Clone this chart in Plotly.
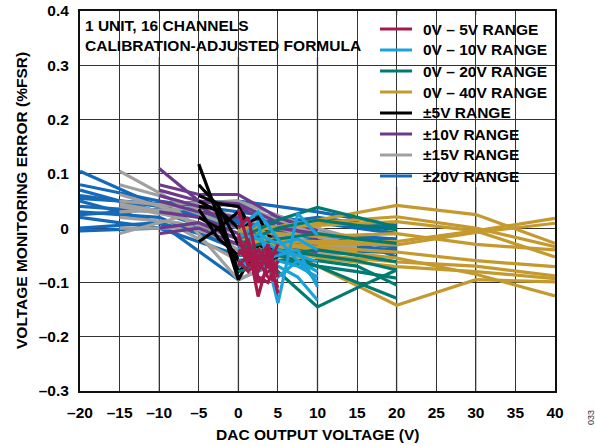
import plotly.graph_objects as go

# DAC output voltage at 0, 25, 50, 75 and 100 % of each range's span (V)
x_0_5 = [0, 1.25, 2.5, 3.75, 5]
x_0_10 = [0, 2.5, 5, 7.5, 10]
x_0_20 = [0, 5, 10, 15, 20]
x_0_40 = [0, 10, 20, 30, 40]
x_pm5 = [-5, -2.5, 0, 2.5, 5]
x_pm10 = [-10, -5, 0, 5, 10]
x_pm15 = [-15, -7.5, 0, 7.5, 15]
x_pm20 = [-20, -10, 0, 10, 20]

# Voltage monitoring error (%FSR), one row per channel
err_0_5 = [
    [0.035, -0.030, -0.126, -0.060, -0.080],
    [-0.020, -0.050, -0.080, -0.040, -0.120],
    [-0.040, -0.060, -0.050, -0.070, -0.030],
    [-0.050, -0.020, -0.090, -0.100, -0.060],
    [0.000, 0.020, -0.070, -0.050, -0.045],
    [-0.060, -0.080, -0.060, -0.090, -0.100],
    [-0.030, -0.040, -0.100, -0.080, -0.070],
    [-0.070, -0.050, -0.040, -0.060, -0.110],
    [-0.010, -0.070, -0.060, -0.030, -0.090],
]
err_0_10 = [
    [-0.020, 0.010, -0.138, 0.027, -0.013],
    [-0.030, -0.060, -0.050, -0.040, -0.108],
    [0.000, 0.030, -0.020, -0.060, -0.080],
    [-0.050, -0.040, -0.070, -0.090, -0.133],
    [-0.010, -0.020, -0.040, -0.050, -0.062],
    [-0.060, -0.080, -0.060, -0.070, -0.090],
    [-0.040, -0.010, -0.030, -0.020, -0.040],
    [-0.070, -0.050, -0.090, -0.060, -0.100],
]
err_0_20 = [
    [-0.020, 0.015, 0.038, 0.020, 0.002],
    [-0.030, 0.000, 0.015, 0.005, -0.003],
    [-0.040, -0.020, -0.010, -0.020, -0.028],
    [-0.060, -0.050, -0.040, -0.050, -0.062],
    [-0.050, -0.040, -0.050, -0.060, -0.077],
    [-0.070, -0.060, -0.070, -0.080, -0.092],
    [-0.030, -0.050, -0.070, -0.100, -0.129],
    [-0.020, -0.080, -0.145, -0.110, -0.077],
    [-0.080, -0.060, -0.060, -0.070, -0.105],
]
err_0_40 = [
    [-0.010, 0.015, 0.042, 0.025, -0.028],
    [-0.005, 0.010, 0.021, 0.000, -0.034],
    [0.000, 0.005, 0.012, -0.005, -0.053],
    [-0.020, -0.025, -0.025, -0.005, 0.018],
    [-0.015, -0.028, -0.031, -0.008, 0.009],
    [-0.020, -0.035, -0.044, -0.060, -0.071],
    [-0.020, -0.050, -0.062, -0.070, -0.088],
    [-0.010, -0.055, -0.071, -0.080, -0.093],
    [0.000, -0.070, -0.142, -0.095, -0.099],
    [-0.020, -0.040, -0.055, -0.085, -0.125],
    [-0.005, -0.015, -0.010, -0.030, -0.040],
]
err_pm5 = [
    [0.118, 0.020, -0.095, -0.030, -0.045],
    [0.080, 0.040, -0.030, -0.010, -0.050],
    [0.060, 0.045, 0.040, -0.020, -0.055],
    [0.040, 0.035, 0.000, 0.020, -0.040],
    [0.035, -0.020, -0.050, -0.030, -0.050],
    [0.020, 0.000, -0.060, -0.060, -0.045],
    [-0.025, 0.000, 0.030, -0.040, -0.050],
    [0.050, 0.030, -0.080, -0.050, -0.060],
]
err_pm10 = [
    [0.110, 0.050, 0.040, 0.000, -0.010],
    [0.080, 0.062, 0.062, 0.020, -0.005],
    [0.070, 0.050, 0.045, 0.010, -0.020],
    [0.050, 0.030, 0.020, -0.020, -0.040],
    [0.030, 0.020, -0.010, -0.030, -0.050],
    [0.000, 0.010, -0.020, -0.040, -0.050],
    [-0.010, 0.000, -0.030, -0.050, -0.030],
    [0.060, 0.040, 0.000, -0.030, -0.045],
]
err_pm15 = [
    [0.105, 0.045, 0.050, 0.010, -0.020],
    [0.080, 0.050, 0.020, -0.010, -0.030],
    [0.062, 0.030, -0.095, -0.045, -0.040],
    [0.050, 0.040, 0.000, -0.020, -0.045],
    [0.040, 0.020, -0.020, -0.030, -0.035],
    [0.020, 0.010, -0.030, -0.040, -0.030],
    [0.000, 0.000, -0.060, -0.050, -0.046],
    [-0.010, 0.020, -0.010, -0.025, -0.025],
    [0.030, 0.035, 0.045, 0.000, -0.022],
    [0.045, 0.025, -0.040, -0.035, -0.040],
]
err_pm20 = [
    [0.105, 0.040, 0.000, 0.020, 0.000],
    [0.080, 0.050, 0.030, 0.010, -0.010],
    [0.070, 0.030, -0.020, -0.010, -0.020],
    [0.060, 0.040, 0.010, -0.020, -0.030],
    [0.050, 0.010, -0.095, -0.030, -0.040],
    [0.040, 0.030, 0.020, 0.000, -0.053],
    [0.030, 0.020, -0.040, -0.030, -0.025],
    [0.020, 0.000, -0.050, -0.040, -0.045],
    [0.000, 0.010, -0.030, -0.020, -0.035],
    [-0.005, 0.000, 0.010, 0.015, -0.010],
    [0.055, 0.045, 0.050, 0.030, 0.005],
    [0.025, 0.035, 0.015, -0.015, -0.020],
]

range_names = ["0V – 5V RANGE", "0V – 10V RANGE", "0V – 20V RANGE", "0V – 40V RANGE",
               "±5V RANGE", "±10V RANGE", "±15V RANGE", "±20V RANGE"]
range_colors = ["#A6194B", "#1AA3DB", "#007B72", "#C49A2F",
                "#000000", "#6B3A8C", "#A0A0A0", "#1469B8"]
range_x = [x_0_5, x_0_10, x_0_20, x_0_40, x_pm5, x_pm10, x_pm15, x_pm20]
range_err = [err_0_5, err_0_10, err_0_20, err_0_40, err_pm5, err_pm10, err_pm15, err_pm20]

x_ticks = [-20, -15, -10, -5, 0, 5, 10, 15, 20, 25, 30, 35, 40]
x_tick_text = ["–20", "–15", "–10", "–5", "0", "5", "10", "15", "20", "25", "30", "35", "40"]
y_ticks = [-0.3, -0.2, -0.1, 0, 0.1, 0.2, 0.3, 0.4]
y_tick_text = ["–0.3", "–0.2", "–0.1", "0", "0.1", "0.2", "0.3", "0.4"]

FONT = "Liberation Sans, Arial, sans-serif"
FS = 15.5
TXT = dict(family=FONT, size=FS, color="#000")


def bold(s):
    return "<b>" + s + "</b>"


fig = go.Figure()

# widest ranges first so the narrow ranges sit on top
for idx in reversed(range(len(range_names))):
    for ch in range_err[idx]:
        fig.add_trace(go.Scatter(
            x=range_x[idx], y=ch, mode="lines",
            line=dict(color=range_colors[idx], width=3.2),
            showlegend=False, hoverinfo="skip",
        ))

# plot area in pixels: x 80..555, y 11..391
L, R, T, B = 80, 555, 11, 391


def px(xp):
    return (xp - L) / (R - L)


def py(yp):
    return (B - yp) / (B - T)


shapes = []
# lighter vertical grid lines every 10 V
for xv in [-10, 0, 10, 20, 30]:
    shapes.append(dict(type="line", xref="x", yref="paper", x0=xv, x1=xv, y0=0, y1=1,
                       line=dict(color="#9A9A9A", width=1.6), layer="between"))
# white panels behind the caption and the key
shapes.append(dict(type="rect", xref="paper", yref="paper", x0=px(81), x1=px(370),
                   y0=py(57), y1=py(12), fillcolor="white", line=dict(width=0), layer="between"))
shapes.append(dict(type="rect", xref="paper", yref="paper", x0=px(372), x1=px(554),
                   y0=py(187), y1=py(15), fillcolor="white", line=dict(width=0), layer="between"))

annotations = []
key_rows = [29, 50, 71, 92, 113, 134, 155, 176]
for name, color, yr in zip(range_names, range_colors, key_rows):
    shapes.append(dict(type="line", xref="paper", yref="paper", x0=px(380), x1=px(412),
                       y0=py(yr), y1=py(yr), line=dict(color=color, width=3), layer="above"))
    annotations.append(dict(text=bold(name), xref="paper", yref="paper", x=px(421), y=py(yr),
                            xanchor="left", yanchor="middle", showarrow=False, font=TXT))

annotations += [
    dict(text=bold("1 UNIT, 16 CHANNELS"), xref="paper", yref="paper", x=px(83), y=py(25),
         xanchor="left", yanchor="middle", showarrow=False, font=TXT),
    dict(text=bold("CALIBRATION-ADJUSTED FORMULA"), xref="paper", yref="paper", x=px(83), y=py(46),
         xanchor="left", yanchor="middle", showarrow=False, font=TXT),
    dict(text=bold("DAC OUTPUT VOLTAGE (V)"), xref="paper", yref="paper", x=0.5, y=py(435),
         xanchor="center", yanchor="middle", showarrow=False, font=TXT),
    dict(text=bold("VOLTAGE MONITORING ERROR (%FSR)"), xref="paper", yref="paper", x=px(21), y=0.5,
         xanchor="center", yanchor="middle", showarrow=False, textangle=-90, font=TXT),
    dict(text="033", xref="paper", yref="paper", x=px(591), y=py(418),
         xanchor="center", yanchor="middle", showarrow=False, textangle=-90,
         font=dict(family=FONT, size=9, color="#333")),
]

fig.update_layout(
    width=595, height=446,
    margin=dict(l=L, r=595 - R, t=T, b=446 - B),
    paper_bgcolor="white", plot_bgcolor="white",
    shapes=shapes, annotations=annotations,
    showlegend=False,
    font=TXT,
)
fig.update_xaxes(
    range=[-20, 40], tickvals=x_ticks, ticktext=[bold(t) for t in x_tick_text],
    showgrid=True, gridcolor="#333333", gridwidth=1,
    showline=True, linecolor="#111111", linewidth=2, mirror=True,
    ticks="", ticklabelstandoff=6, zeroline=False, automargin=False,
    tickfont=TXT,
)
fig.update_yaxes(
    range=[-0.3, 0.4], tickvals=y_ticks, ticktext=[bold(t) for t in y_tick_text],
    showgrid=True, gridcolor="#333333", gridwidth=1,
    showline=True, linecolor="#111111", linewidth=2, mirror=True,
    ticks="", ticklabelstandoff=6, zeroline=False, automargin=False,
    tickfont=TXT,
)

fig.write_html("out.html")
